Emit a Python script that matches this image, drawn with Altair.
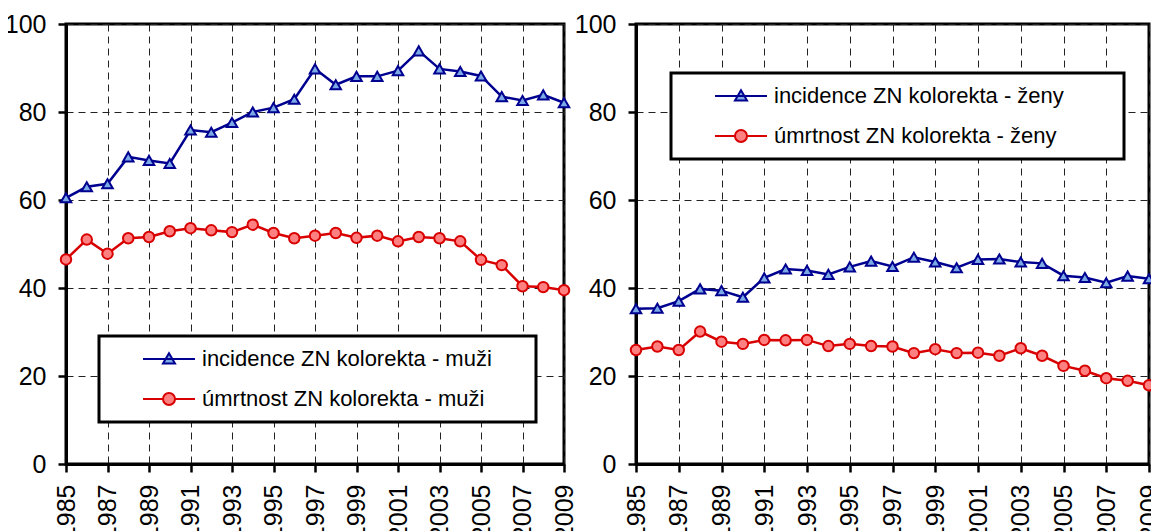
import altair as alt
import pandas as pd

years = list(range(1985, 2010))
inc_m = [60.5, 63.0, 63.7, 69.8, 69.0, 68.3, 75.9, 75.4, 77.6, 80.0, 81.0, 82.9, 89.8,
         86.2, 88.1, 88.1, 89.4, 93.9, 89.8, 89.2, 88.2, 83.5, 82.6, 83.9, 82.1]
mort_m = [46.5, 51.0, 47.8, 51.3, 51.6, 52.9, 53.6, 53.1, 52.7, 54.4, 52.5, 51.3, 51.9,
          52.5, 51.4, 51.9, 50.6, 51.6, 51.3, 50.6, 46.4, 45.2, 40.4, 40.2, 39.5]
inc_f = [35.3, 35.4, 37.0, 39.8, 39.4, 37.9, 42.3, 44.3, 44.0, 43.1, 44.8, 46.1, 44.9,
         47.0, 45.9, 44.6, 46.5, 46.6, 45.9, 45.6, 42.8, 42.4, 41.2, 42.7, 42.1]
mort_f = [25.9, 26.7, 25.9, 30.1, 27.8, 27.3, 28.2, 28.1, 28.2, 26.8, 27.3, 26.8, 26.7,
          25.2, 26.1, 25.2, 25.3, 24.6, 26.3, 24.6, 22.3, 21.2, 19.5, 18.9, 17.9]

labels_m = ["incidence ZN kolorekta - muži", "úmrtnost ZN kolorekta - muži"]
labels_f = ["incidence ZN kolorekta - ženy", "úmrtnost ZN kolorekta - ženy"]

x_ticks = list(range(1985, 2010, 2))
y_ticks = [0, 20, 40, 60, 80, 100]

line_colors = ["#000090", "#D80000"]
fill_colors = ["#7BAAE6", "#FF8080"]
point_shapes = ["triangle-up", "circle"]

# legend symbols: line segment with marker (unit = 6 px)
TRI_PATH = "M-4.33,0L4.33,0M0,-0.95L1,0.75L-1,0.75Z"
CIRC_PATH = ("M-4.33,0L-1,0M1,0L4.33,0M1,0C1,0.552,0.552,1,0,1C-0.552,1,-1,0.552,-1,0"
             "C-1,-0.552,-0.552,-1,0,-1C0.552,-1,1,-0.552,1,0Z")

NARROW = "Liberation Sans Narrow, Arial Narrow, Liberation Sans, Arial"
REG = "Liberation Sans, Arial"


def panel(inc, mort, labels, width, lx, ly, tail):
    df = pd.DataFrame({
        "rok": years * 2,
        "hodnota": inc + mort,
        "serie": [labels[0]] * len(years) + [labels[1]] * len(years),
    })
    x = alt.X("rok:Q", scale=alt.Scale(domain=[1985, 2009], nice=False, zero=False),
              axis=alt.Axis(values=x_ticks, format="d", title=None, labelAngle=-90,
                            labelFont=NARROW, labelFontSize=25))
    y = alt.Y("hodnota:Q", scale=alt.Scale(domain=[0, 100], nice=False),
              axis=alt.Axis(values=y_ticks, title=None, labelFont=NARROW, labelFontSize=25))
    base = alt.Chart(df)
    layers = []
    for i in range(2):
        sub = base.transform_filter(alt.datum.serie == labels[i])
        layers.append(sub.mark_line(strokeWidth=2.5, color=line_colors[i]).encode(x=x, y=y))
    for i in range(2):
        sub = base.transform_filter(alt.datum.serie == labels[i])
        layers.append(
            sub.mark_point(
                shape=point_shapes[i], filled=True, opacity=1, size=110, strokeWidth=2,
                fill=fill_colors[i], stroke=line_colors[i]
            ).encode(x=x, y=y)
        )
    # invisible layer that only carries the legend (line + marker symbols)
    leg = base.mark_point(
        filled=True, opacity=1, size=0, strokeWidth=2
    ).encode(
        x=x, y=y,
        stroke=alt.Stroke("serie:N", scale=alt.Scale(domain=labels, range=line_colors),
                          legend=alt.Legend(
                              title=None, orient="none", legendX=lx, legendY=ly,
                              strokeColor="black", fillColor="white", padding=12,
                              labelFont=REG, labelFontSize=22, labelColor="black",
                              labelLimit=600,
                              symbolSize=144, symbolStrokeWidth=2, symbolOffset=47,
                              labelOffset=22, rowPadding=18,
                              labelExpr="datum.label + '" + tail + "'")),
        fill=alt.Fill("serie:N", scale=alt.Scale(domain=labels, range=fill_colors)),
        shape=alt.Shape("serie:N", scale=alt.Scale(domain=labels, range=[TRI_PATH, CIRC_PATH])),
    )
    layers.append(leg)
    return alt.layer(*layers).properties(width=width, height=440)


left = panel(inc_m, mort_m, labels_m, 498, 33, 312, "\u2800\u2800")
right = panel(inc_f, mort_f, labels_f, 513, 35, 49, "\u2800\u2800\u2800")

chart = alt.hconcat(left, right, spacing=72, bounds="flush").resolve_scale(
    stroke="independent", fill="independent", shape="independent"
).resolve_legend(
    stroke="independent", fill="independent", shape="independent"
).properties(
    autosize=alt.AutoSizeParams(type="none"),
    padding={"left": 58, "top": 16, "right": 1085, "bottom": 499}
).configure_view(
    stroke="black", strokeWidth=3
).configure_axis(
    domainColor="black", domainWidth=3, tickColor="black", tickWidth=2.5, tickSize=8,
    labelPadding=12, labelColor="black", gridColor="#222", gridDash=[7, 5], gridWidth=1
).configure_legend(
    strokeWidth=3
)

chart.save("out.html", embed_options={"renderer": "svg", "actions": False})
